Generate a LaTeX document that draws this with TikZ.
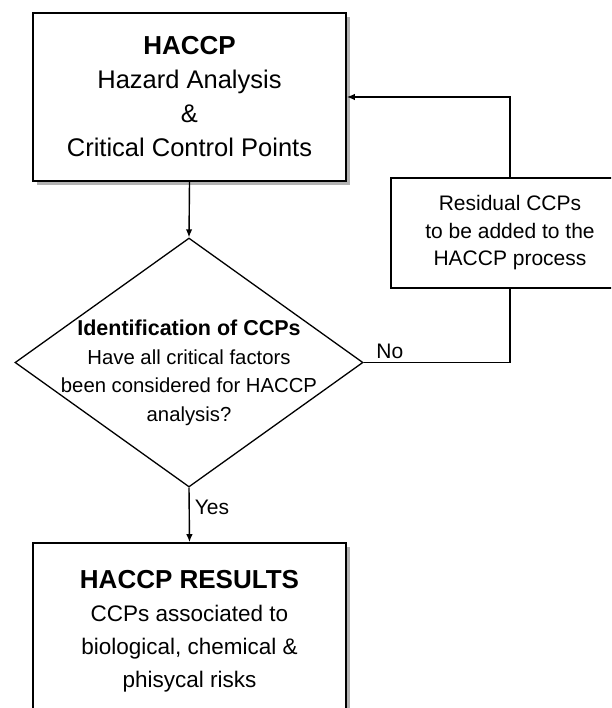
\documentclass[tikz,border=0pt]{standalone}
\usepackage{fontspec}
\setmainfont{Liberation Sans}
\usetikzlibrary{arrows.meta,shapes.geometric,shadows}
\begin{document}
\begin{tikzpicture}[x=1pt,y=-1pt,
  box/.style={draw=black,line width=1.6pt,fill=white,inner sep=0pt,align=center,
    drop shadow={shadow xshift=4pt,shadow yshift=-4pt,fill=black!30,opacity=1}},
  plainbox/.style={draw=black,line width=1.3pt,fill=white,inner sep=0pt,align=center},
  decision/.style={diamond,draw=black,line width=1.3pt,fill=white,inner sep=0pt},
  link/.style={line width=1.4pt},
  arrow/.style={link,-{Latex[length=8pt,width=6.5pt]}},
  lbl/.style={font=\fontsize{21}{25}\selectfont,inner sep=0pt}]
\clip (0,0) rectangle (611,708);
\fill[white] (0,0) rectangle (611,708);

% HACCP process box
\node[box,minimum width=313pt,minimum height=168pt,
      font=\fontsize{25.5}{34}\selectfont] (haccp) at (189.5,97)
  {\textbf{\fontsize{26}{34}\selectfont HACCP}\\Hazard Analysis\\\&\\Critical Control Points};

% decision diamond
\node[decision,minimum width=348pt,minimum height=249pt] (dec) at (189,362.5) {};
\node[align=center,inner sep=0pt,font=\fontsize{20.3}{28.5}\selectfont] (dectext) at (189,373)
  {\textbf{\fontsize{21.5}{28.5}\selectfont Identification of CCPs}\\Have all critical factors\\been considered for HACCP\\analysis?};

% residual CCPs box
\node[plainbox,minimum width=238pt,minimum height=110pt,
      font=\fontsize{21}{27.5}\selectfont] (resid) at (510,233)
  {Residual CCPs\\to be added to the\\HACCP process};

% results box
\node[box,minimum width=313pt,minimum height=176pt,
      font=\fontsize{22.5}{33}\selectfont] (results) at (189.5,631)
  {\textbf{\fontsize{26}{33}\selectfont HACCP RESULTS}\\CCPs associated to\\biological, chemical \&\\phisycal risks};

% connectors
\draw[arrow] (haccp.south) -- (dec.north);
\draw[arrow] (dec.south) -- node[lbl,anchor=base west,xshift=5pt,yshift=-5pt,pos=0.4] (yes) {Yes} (results.north);
\draw[link] (dec.east) -| node[lbl,anchor=base west,xshift=12pt,yshift=4.5pt,pos=0] (no) {No} (resid.south);
\draw[arrow] (resid.north) |- (haccp.east);
\end{tikzpicture}
\end{document}
